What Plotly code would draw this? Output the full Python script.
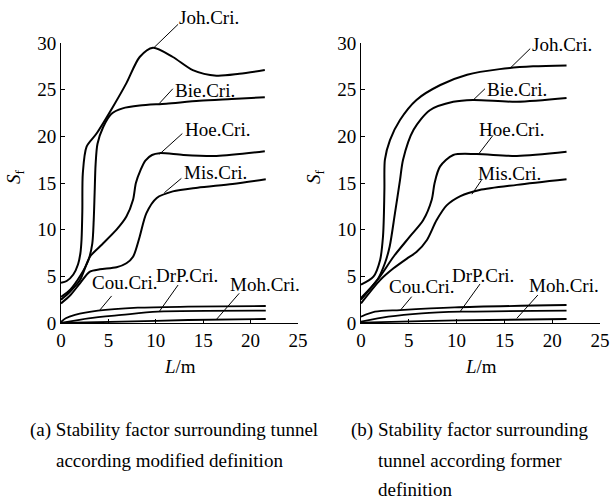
import plotly.graph_objects as go

# ---------------- data ----------------
# Panel (a): modified definition
joh_a_x = [0, 0.6, 1.3, 1.8, 2.05, 2.17, 2.25, 2.3, 2.7, 3.75, 5.5, 6.9, 8.3, 9.7, 11.8, 13.9, 16.4, 18.8, 21.5]
joh_a_y = [4.3, 4.5, 5.2, 6.3, 7.5, 9.0, 12.0, 16.0, 18.9, 20.3, 23.2, 25.7, 28.5, 29.5, 28.5, 27.1, 26.5, 26.7, 27.1]
bie_a_x = [0, 1.0, 2.0, 2.9, 3.3, 3.45, 3.55, 3.65, 3.85, 4.45, 5.3, 6.5, 8.3, 11.1, 14.6, 18.0, 21.5]
bie_a_y = [2.8, 3.6, 5.0, 6.75, 8.5, 11.0, 14.0, 17.0, 19.2, 21.0, 22.4, 23.0, 23.3, 23.5, 23.8, 24.0, 24.2]
hoe_a_x = [0, 1.0, 2.0, 3.05, 4.1, 5.86, 6.9, 7.6, 7.9, 8.4, 8.9, 9.6, 10.4, 12.9, 16.4, 21.5]
hoe_a_y = [2.5, 3.4, 4.6, 7.1, 8.2, 10.0, 11.4, 13.2, 15.0, 16.4, 17.4, 18.0, 18.2, 18.0, 17.9, 18.4]
mis_a_x = [0, 1.0, 2.0, 3.05, 4.1, 5.86, 6.9, 7.6, 8.3, 9.0, 10.1, 11.8, 14.4, 18.1, 21.6]
mis_a_y = [2.1, 3.0, 4.25, 5.5, 5.75, 5.97, 6.4, 7.1, 9.25, 11.75, 13.4, 14.1, 14.5, 14.9, 15.4]
cou_a_x = [0, 0.5, 1.47, 3.9, 8.1, 13.4, 21.6]
cou_a_y = [0.1, 0.5, 0.86, 1.32, 1.64, 1.75, 1.82]
drp_a_x = [0, 2.9, 6.4, 10.2, 21.6]
drp_a_y = [0, 0.5, 0.86, 1.21, 1.32]
moh_a_x = [0, 6.4, 13.4, 21.6]
moh_a_y = [0, 0.14, 0.32, 0.43]

# Panel (b): former definition
joh_b_x = [0, 1.3, 2.0, 2.3, 2.4, 2.45, 2.5, 3.03, 4.08, 5.8, 8.3, 11.1, 14.5, 18.0, 21.5]
joh_b_y = [4.1, 4.96, 6.75, 9.25, 11.75, 14.5, 17.5, 19.6, 21.75, 23.9, 25.5, 26.6, 27.2, 27.5, 27.6]
bie_b_x = [0, 1.7, 2.5, 3.0, 3.55, 4.08, 4.4, 5.5, 7.2, 9.65, 11.7, 16.3, 21.5]
bie_b_y = [2.7, 4.6, 6.4, 8.2, 11.75, 15.3, 17.5, 20.7, 22.8, 23.7, 23.9, 23.7, 24.1]
hoe_b_x = [0, 2.0, 3.4, 5.1, 6.5, 7.4, 7.7, 8.26, 9.65, 12.1, 16.3, 21.5]
hoe_b_y = [2.5, 5.0, 7.1, 9.25, 11.0, 13.2, 15.0, 16.75, 18.0, 18.1, 17.9, 18.35]
mis_b_x = [0, 2.0, 3.4, 4.8, 5.8, 6.9, 7.9, 8.96, 10.4, 12.4, 16.3, 21.5]
mis_b_y = [2.1, 4.6, 5.86, 6.9, 7.6, 8.9, 11.0, 12.6, 13.6, 14.25, 14.8, 15.4]
cou_b_x = [0, 1.46, 4.08, 9.8, 21.5]
cou_b_y = [0.68, 1.21, 1.39, 1.68, 1.93]
drp_b_x = [0, 2.86, 6.35, 10.5, 21.5]
drp_b_y = [0.14, 0.68, 1.04, 1.21, 1.32]
moh_b_x = [0, 6.35, 13.3, 21.5]
moh_b_y = [0.04, 0.21, 0.32, 0.43]

series_names = ["Joh.Cri.", "Bie.Cri.", "Hoe.Cri.", "Mis.Cri.", "Cou.Cri.", "DrP.Cri.", "Moh.Cri."]

# label positions (data coords) and leader lines (point on curve -> label end)
labels_a = [(15.6, 32.7), (15.2, 24.9), (16.5, 20.7), (16.3, 16.1), (6.7, 4.3), (13.3, 5.1), (21.5, 4.1)]
leaders_a = [((9.8, 29.5), (12.35, 32.0)), ((10.35, 23.5), (11.8, 25.1)), ((10.4, 18.1), (12.8, 20.3)),
             ((10.9, 13.96), (12.7, 15.5)), ((4.1, 1.39), (5.34, 2.9)), ((10.35, 1.21), (12.35, 4.07)),
             ((16.4, 0.39), (18.8, 3.18))]
labels_b = [(21.0, 29.8), (16.3, 25.0), (15.7, 20.7), (15.5, 16.0), (6.3, 3.9), (12.8, 5.1), (21.2, 4.0)]
leaders_b = [((15.6, 27.3), (17.7, 29.4)), ((11.75, 23.9), (12.97, 25.1)), ((12.3, 18.1), (13.8, 20.1)),
             ((11.6, 13.8), (12.6, 15.3)), ((4.08, 1.32), (5.3, 2.82)), ((10.36, 1.21), (12.45, 4.18)),
             ((16.3, 0.5), (18.5, 3.0))]

x_ticks = [0, 5, 10, 15, 20, 25]
y_ticks = [0, 5, 10, 15, 20, 25, 30]
Y_MAX = 30

caption_a = ["(a) Stability factor surrounding tunnel", "according modified definition"]
caption_b = ["(b) Stability factor surrounding", "tunnel according former", "definition"]

# ---------------- figure ----------------
FONT = "Liberation Serif, Times New Roman, serif"
W, H = 610, 501
y_dom = [1 - 323 / H, 1 - 43 / H]


def ypaper(v):
    return y_dom[0] + v / Y_MAX * (y_dom[1] - y_dom[0])


fig = go.Figure()

panel_a = [(joh_a_x, joh_a_y), (bie_a_x, bie_a_y), (hoe_a_x, hoe_a_y), (mis_a_x, mis_a_y),
           (cou_a_x, cou_a_y), (drp_a_x, drp_a_y), (moh_a_x, moh_a_y)]
panel_b = [(joh_b_x, joh_b_y), (bie_b_x, bie_b_y), (hoe_b_x, hoe_b_y), (mis_b_x, mis_b_y),
           (cou_b_x, cou_b_y), (drp_b_x, drp_b_y), (moh_b_x, moh_b_y)]

for axn, panel in (("", panel_a), ("2", panel_b)):
    for i, (xs, ys) in enumerate(panel):
        fig.add_trace(go.Scatter(x=xs, y=ys, mode="lines", name=series_names[i],
                                 line=dict(color="black", width=2 if i < 4 else 1.8,
                                           shape="spline", smoothing=0.8),
                                 xaxis="x" + axn, yaxis="y" + axn, showlegend=False,
                                 hoverinfo="skip", cliponaxis=False))

annotations = []
shapes = []
for axn, labels, leaders in (("", labels_a, leaders_a), ("2", labels_b, leaders_b)):
    for name, (lx, ly), ((x0, y0), (x1, y1)) in zip(series_names, labels, leaders):
        annotations.append(dict(x=lx, y=ypaper(ly), xref="x" + axn, yref="paper", text=name,
                                showarrow=False, font=dict(family=FONT, size=19, color="black"),
                                xanchor="center", yanchor="middle"))
        shapes.append(dict(type="line", x0=x0, y0=ypaper(y0), x1=x1, y1=ypaper(y1),
                           xref="x" + axn, yref="paper", line=dict(color="black", width=1)))

# axis titles
for cx in (15, 315):
    annotations.append(dict(x=cx / W, y=1 - 177 / H, xref="paper", yref="paper",
                            text="<i>S</i><sub>f</sub>", textangle=-90, showarrow=False,
                            font=dict(family=FONT, size=19, color="black"),
                            xanchor="center", yanchor="middle"))
for cx in (180, 481):
    annotations.append(dict(x=cx / W, y=1 - 366 / H, xref="paper", yref="paper",
                            text="<i>L</i>/m", showarrow=False,
                            font=dict(family=FONT, size=19, color="black"),
                            xanchor="center", yanchor="middle"))

# captions
cap_y = [430, 460, 489]
cap_a_x = [28, 54]
cap_b_x = [349, 376, 376]
for j, t in enumerate(caption_a):
    annotations.append(dict(x=cap_a_x[j] / W, y=1 - cap_y[j] / H, xref="paper", yref="paper",
                            text=t, showarrow=False, font=dict(family=FONT, size=19, color="black"),
                            xanchor="left", yanchor="middle"))
for j, t in enumerate(caption_b):
    annotations.append(dict(x=cap_b_x[j] / W, y=1 - cap_y[j] / H, xref="paper", yref="paper",
                            text=t, showarrow=False, font=dict(family=FONT, size=19, color="black"),
                            xanchor="left", yanchor="middle"))

xa = dict(range=[0, 25], tickvals=x_ticks, ticks="inside", ticklen=4, tickwidth=1,
          tickcolor="black", showline=True, linecolor="black", linewidth=1, showgrid=False,
          zeroline=False, tickfont=dict(family=FONT, size=19, color="black"), fixedrange=True,
          automargin=False)
ya = dict(range=[0, Y_MAX], tickvals=y_ticks, ticks="inside", ticklen=4, tickwidth=1,
          tickcolor="black", showline=True, linecolor="black", linewidth=1, showgrid=False,
          zeroline=False, tickfont=dict(family=FONT, size=19, color="black"), fixedrange=True,
          automargin=False)

fig.update_layout(
    template="none",
    width=W, height=H, margin=dict(l=0, r=0, t=0, b=0, pad=0),
    paper_bgcolor="white", plot_bgcolor="white",
    xaxis=dict(xa, domain=[61 / W, 298 / W], anchor="y"),
    yaxis=dict(ya, domain=y_dom, anchor="x"),
    xaxis2=dict(xa, domain=[361 / W, 600 / W], anchor="y2"),
    yaxis2=dict(ya, domain=y_dom, anchor="x2"),
    annotations=annotations, shapes=shapes, showlegend=False,
)

fig.write_html("out.html", config={"displayModeBar": False},
               post_script="document.body.style.margin='0';document.body.style.overflow='hidden';")
